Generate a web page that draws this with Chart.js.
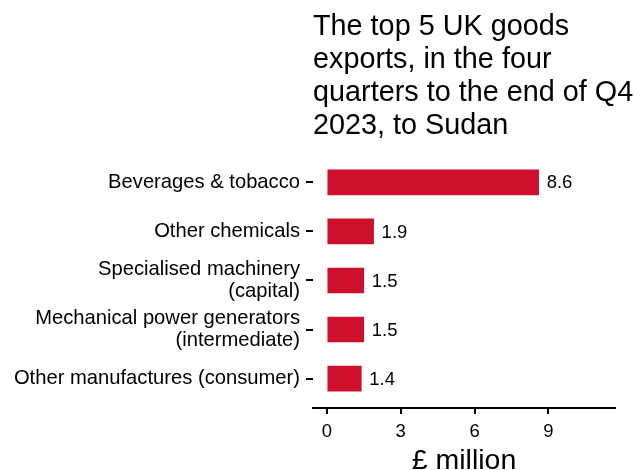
<!DOCTYPE html>
<html>
<head>
<meta charset="utf-8">
<script src="https://cdn.jsdelivr.net/npm/chart.js@4.4.1/dist/chart.umd.min.js"></script>
<style>
  html, body { margin: 0; padding: 0; background: #fff; }
  #wrap { width: 641px; height: 470px; }
</style>
</head>
<body>
<div id="wrap"><canvas id="exportsChart"></canvas></div>
<script>
const categories = [
  'Beverages & tobacco',
  'Other chemicals',
  ['Specialised machinery', '(capital)'],
  ['Mechanical power generators', '(intermediate)'],
  'Other manufactures (consumer)',
];
const exportValues = [8.6, 1.9, 1.5, 1.5, 1.4];
const xTicks = [0, 3, 6, 9];
const titleLines = [
  'The top 5 UK goods',
  'exports, in the four',
  'quarters to the end of Q4',
  '2023, to Sudan',
];

const FONT = "'Liberation Sans', Arial, sans-serif";

// bar value labels, placed just past the end of each bar
const valueLabels = {
  id: 'valueLabels',
  afterDatasetsDraw(chart) {
    const ctx = chart.ctx;
    const meta = chart.getDatasetMeta(0);
    ctx.save();
    ctx.font = `18.5px ${FONT}`;
    ctx.fillStyle = '#000';
    ctx.textAlign = 'left';
    ctx.textBaseline = 'middle';
    meta.data.forEach((bar, i) => {
      ctx.fillText(exportValues[i].toFixed(1), bar.x + 8, bar.y + 1);
    });
    ctx.restore();
  },
};

// title starts at the plot's left edge but may run past the plot on the right
const wideTitle = {
  id: 'wideTitle',
  afterLayout(chart) {
    if (chart.titleBlock) chart.titleBlock.right = chart.width;
  },
};

const ctx = document.getElementById('exportsChart').getContext('2d');
new Chart(ctx, {
  type: 'bar',
  data: {
    datasets: [
      {
        data: exportValues.map((v, i) => ({ x: v, y: i })),
        backgroundColor: '#cf102d',
        borderWidth: 0,
        barThickness: 25,
      },
    ],
  },
  options: {
    indexAxis: 'y',
    responsive: true,
    maintainAspectRatio: false,
    animation: false,
    layout: { padding: { left: 0, right: 26, top: 0, bottom: 0 } },
    plugins: {
      legend: { display: false },
      tooltip: { enabled: false },
      title: {
        display: true,
        text: titleLines,
        align: 'start',
        fullSize: false,
        color: '#000',
        font: { family: FONT, size: 28.8, weight: 'normal', lineHeight: 1.15 },
        padding: { top: 10, bottom: 10.5 },
      },
    },
    scales: {
      x: {
        type: 'linear',
        min: -0.56,
        max: 11.7,
        afterBuildTicks: scale => {
          scale.ticks = xTicks.map(v => ({ value: v }));
        },
        afterFit: scale => {
          scale.height = 62;
        },
        ticks: {
          color: '#000',
          font: { family: FONT, size: 18.5 },
          padding: 7,
        },
        grid: {
          drawOnChartArea: false,
          drawTicks: true,
          tickLength: 6,
          color: '#000',
          lineWidth: 2,
        },
        border: { display: true, color: '#000', width: 2 },
        title: {
          display: true,
          text: '£ million',
          color: '#000',
          font: { family: FONT, size: 28.5, lineHeight: 0.6 },
          padding: 0,
        },
      },
      y: {
        type: 'linear',
        reverse: true,
        offset: false,
        min: -0.6,
        max: 4.6,
        afterBuildTicks: scale => {
          scale.ticks = categories.map((c, i) => ({ value: i }));
        },
        afterFit: scale => {
          scale.width = 313;
        },
        ticks: {
          color: '#000',
          font: { family: FONT, size: 20.2, lineHeight: 1.08 },
          padding: 6,
          callback: value => categories[value],
        },
        grid: {
          offset: false,
          drawOnChartArea: false,
          drawTicks: true,
          tickLength: 7,
          color: '#000',
          lineWidth: 2,
        },
        border: { display: false },
      },
    },
  },
  plugins: [valueLabels, wideTitle],
});
</script>
</body>
</html>
